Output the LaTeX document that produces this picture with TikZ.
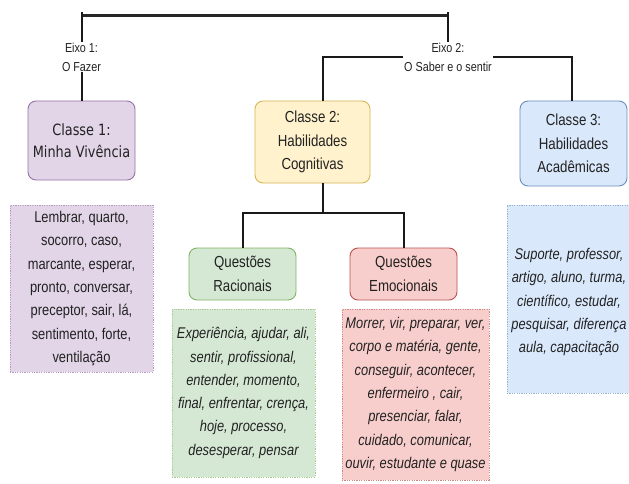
\documentclass[tikz,border=0pt]{standalone}
\usepackage{fontspec}
\setmainfont{Liberation Sans}
\newfontfamily\nf[FakeStretch=0.83]{Liberation Sans}
\newfontfamily\dv[FakeStretch=0.83]{DejaVu Sans}
\definecolor{pfill}{HTML}{E1D5E7}\definecolor{pline}{HTML}{9673A6}
\definecolor{yfill}{HTML}{FFF2CC}\definecolor{yline}{HTML}{D6B656}
\definecolor{bfill}{HTML}{DAE8FC}\definecolor{bline}{HTML}{6C8EBF}
\definecolor{gfill}{HTML}{D5E8D4}\definecolor{gline}{HTML}{82B366}
\definecolor{rfill}{HTML}{F8CECC}\definecolor{rline}{HTML}{B85450}
\definecolor{txt}{HTML}{222222}
\begin{document}
\begin{tikzpicture}[x=1pt,y=-1pt,
  cls/.style={draw, rounded corners=8pt, line width=0.9pt, align=center, inner sep=0pt,
    text=txt, font=\nf\fontsize{16}{23.5}\selectfont},
  lst/.style={draw, line width=0.6pt, dash pattern=on 1.2pt off 1.2pt, align=center, inner sep=0pt,
    text=txt, font=\nf\fontsize{15.5}{23.3}\selectfont},
  lsttext/.style={align=center, inner sep=0pt, text=txt, font=\nf\itshape\fontsize{15.5}{23.3}\selectfont},
  axis/.style={fill=white, align=center, inner sep=1pt, text=txt, font=\nf\fontsize{13}{19}\selectfont},
  conn/.style={draw=black!90, line width=2pt},
  topbar/.style={draw=black!85, line width=3pt}]
\useasboundingbox (0,0) rectangle (629,484);
\clip (0,0) rectangle (629,484);

% class boxes
\node[cls, fill=pfill, draw=pline, minimum width=107pt, minimum height=79pt, font=\dv\fontsize{15.5}{23.5}\selectfont]
  (c1) at (81.5,140.5) {Classe 1:\\[-1pt]Minha Vivência};
\node[cls, fill=yfill, draw=yline, minimum width=115pt, minimum height=82pt]
  (c2) at (312.5,142) {Classe 2:\\Habilidades\\Cognitivas};
\node[cls, fill=bfill, draw=bline, minimum width=107pt, minimum height=85pt]
  (c3) at (573.5,143.5) {Classe 3:\\Habilidades\\Acadêmicas};

% sub boxes
\node[cls, fill=gfill, draw=gline, minimum width=107pt, minimum height=52pt]
  (q1) at (242.5,274) {Questões\\Racionais};
\node[cls, fill=rfill, draw=rline, minimum width=107pt, minimum height=52pt]
  (q2) at (403.5,274) {Questões\\Emocionais};

% word lists
\node[lst, fill=pfill, draw=pline!70, minimum width=143pt, minimum height=167pt]
  (l1) at (81.5,288.5) {Lembrar, quarto,\\socorro, caso,\\marcante, esperar,\\pronto, conversar,\\preceptor, sair, lá,\\sentimento, forte,\\ventilação};
\node[lst, fill=gfill, draw=gline!70, minimum width=143pt, minimum height=168pt, font=\nf\itshape\fontsize{15.5}{23.3}\selectfont]
  (l2) at (243.5,393) {Experiência, ajudar, ali,\\sentir, profissional,\\entender, momento,\\final, enfrentar, crença,\\hoje, processo,\\desesperar, pensar};
\node[lst, fill=rfill, draw=rline!70, minimum width=147pt, minimum height=171pt, font=\nf\itshape\fontsize{15.5}{23.3}\selectfont]
  (l3) at (415.5,394.5) {Morrer, vir, preparar, ver,\\corpo e matéria, gente,\\conseguir, acontecer,\\enfermeiro , cair,\\presenciar, falar,\\cuidado, comunicar,\\ouvir, estudante e quase};
\node[lst, fill=bfill, draw=bline!70, minimum width=143pt, minimum height=188pt]
  (l4) at (578.5,299) {};
\node[lsttext] (l4t) at (569,302) {Suporte, professor,\\artigo, aluno, turma,\\científico, estudar,\\pesquisar, diferença\\aula, capacitação};

% axis labels
\node[axis] (e1) at (81.5,57) {Eixo 1:\\O Fazer};
\node[axis] (e2) at (448,57) {Eixo 2:\\O Saber e o sentir};

% connectors
\coordinate (t1) at (81.5,16);
\coordinate (t2) at (448,16);
\coordinate (t1u) at (81.5,12);
\coordinate (t2u) at (448,12);
\draw[topbar] (t1) -- (t2);
\draw[conn] (e1.north) -- (t1u);
\draw[conn] (e2.north) -- (t2u);
\draw[conn] (e1.south) -- (c1.north);
\coordinate (c2top) at (323,101);
\coordinate (c3top) at (572,101);
\draw[conn] (e2.west) -| (c2top);
\draw[conn] (e2.east) -| (c3top);
\coordinate (c2bot) at (323,183);
\coordinate (j3) at (323,213);
\draw[conn] (c2bot) -- (j3);
\draw[conn] (q1.north) |- (j3) -| (q2.north);
\end{tikzpicture}
\end{document}
